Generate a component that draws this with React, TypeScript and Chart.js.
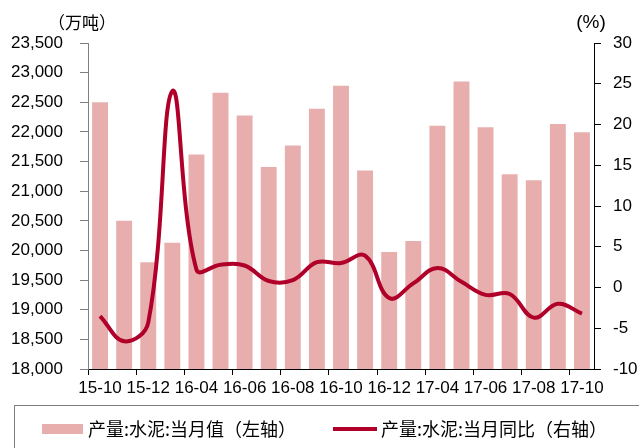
import React, { useEffect, useRef } from "react";
import { Chart, registerables } from "chart.js";

Chart.register(...registerables);

const categories = ["15-10","15-11","15-12","16-03","16-04","16-05","16-06","16-07","16-08","16-09","16-10","16-11","16-12","17-03","17-04","17-05","17-06","17-07","17-08","17-09","17-10"];
const outputValues = [22500,20500,19800,20130,21620,22660,22275,21410,21770,22390,22780,21350,19975,20160,22105,22850,22080,21285,21185,22135,21995];
const yoyValues = [-3.5,-6.6,-4.3,24.1,2.2,2.8,2.7,0.8,0.9,3.1,3.0,3.9,-1.3,0.5,2.4,0.7,-0.9,-0.8,-3.7,-2.0,-3.2];
const leftTitle = "（万吨）";
const rightTitle = "(%)";
const barLabel = "产量:水泥:当月值（左轴）";
const lineLabel = "产量:水泥:当月同比（右轴）";

const BAR_COLOR = "#E8AEAE";
const LINE_COLOR = "#B0002A";
const CJK = '"Noto Sans CJK SC", sans-serif';

function pickTickFont() {
  const c = document.createElement("canvas").getContext("2d");
  if (!c) return { family: '"Liberation Sans", Arial, sans-serif', size: 17 };
  c.font = '20px "Liberation Sans Narrow", monospace';
  const a = c.measureText("ABCdef123,").width;
  c.font = "20px monospace";
  const b = c.measureText("ABCdef123,").width;
  if (Math.abs(a - b) > 0.5) return { family: '"Liberation Sans Narrow", sans-serif', size: 19 };
  return { family: '"Liberation Sans", Arial, sans-serif', size: 17 };
}

export default function App() {
  const ref = useRef<HTMLCanvasElement | null>(null);
  useEffect(() => {
    const canvas = ref.current;
    if (!canvas) return;
    const tf = pickTickFont();
    const tickFont = { family: tf.family, size: tf.size };

    const decor = {
      id: "decor",
      afterDraw(chart: any) {
        const ctx = chart.ctx;
        ctx.save();
        ctx.fillStyle = "#000";
        ctx.textBaseline = "middle";
        ctx.textAlign = "left";
        ctx.font = "17px " + CJK;
        ctx.fillText(leftTitle, 48, 23);
        ctx.font = '19px "Liberation Sans", Arial, sans-serif';
        ctx.textAlign = "center";
        ctx.fillText(rightTitle, 591, 23);
        // legend box
        ctx.strokeStyle = "#7f7f7f";
        ctx.lineWidth = 1;
        ctx.strokeRect(14.5, 405.5, 640, 60);
        ctx.fillStyle = BAR_COLOR;
        ctx.fillRect(42, 424, 41, 10);
        ctx.fillStyle = "#000";
        ctx.textAlign = "left";
        ctx.font = "18px " + CJK;
        ctx.fillText(barLabel, 88, 429);
        ctx.strokeStyle = LINE_COLOR;
        ctx.lineWidth = 4;
        ctx.beginPath();
        ctx.moveTo(333, 429);
        ctx.lineTo(377, 429);
        ctx.stroke();
        ctx.fillText(lineLabel, 381, 429);
        ctx.restore();
      },
    };

    const chart = new Chart(canvas, {
      type: "bar",
      data: {
        labels: categories,
        datasets: [
          {
            type: "line",
            label: lineLabel,
            data: yoyValues,
            yAxisID: "y1",
            borderColor: LINE_COLOR,
            backgroundColor: LINE_COLOR,
            borderWidth: 4,
            pointRadius: 0,
            tension: 0.4,
            order: 0,
          } as any,
          {
            type: "bar",
            label: barLabel,
            data: outputValues,
            yAxisID: "y",
            backgroundColor: BAR_COLOR,
            borderWidth: 0,
            barPercentage: 0.66,
            categoryPercentage: 1,
            order: 1,
          },
        ],
      },
      options: {
        responsive: false,
        animation: false,
        layout: { padding: { top: 43, left: 0, right: 0, bottom: 0 } },
        plugins: { legend: { display: false }, tooltip: { enabled: false } },
        scales: {
          x: {
            type: "category",
            offset: true,
            afterFit: (s: any) => { s.height = 79; },
            grid: {
              offset: true,
              drawOnChartArea: false,
              drawTicks: true,
              tickLength: 6,
              color: (c: any) => (c.index % 2 === 0 ? "#000" : "rgba(0,0,0,0)"),
            },
            border: { display: true, color: "#000", width: 1 },
            ticks: {
              autoSkip: false,
              maxRotation: 0,
              minRotation: 0,
              padding: 3,
              color: "#000",
              font: tickFont,
              callback: (_v: any, i: number) => (i % 2 === 0 ? categories[i] : ""),
            },
          },
          y: {
            position: "left",
            min: 18000,
            max: 23500,
            afterFit: (s: any) => { s.width = 88; },
            grid: { drawOnChartArea: false, drawTicks: true, tickLength: 8, color: "#808080" },
            border: { display: true, color: "#808080", width: 1 },
            ticks: {
              stepSize: 500,
              padding: 17,
              color: "#000",
              font: tickFont,
              callback: (v: any) => Number(v).toLocaleString("en-US"),
            },
          },
          y1: {
            position: "right",
            min: -10,
            max: 30,
            afterFit: (s: any) => { s.width = 45; },
            grid: { drawOnChartArea: false, drawTicks: true, tickLength: 7, color: "#000" },
            border: { display: true, color: "#000", width: 1 },
            ticks: { stepSize: 5, padding: 12, color: "#000", font: tickFont },
          },
        },
      },
      plugins: [decor],
    } as any);
    return () => chart.destroy();
  }, []);

  return (
    <div style={{ position: "fixed", left: 0, top: 0, width: 639, height: 448, background: "#fff" }}>
      <canvas ref={ref} width={639} height={448} style={{ display: "block", width: 639, height: 448 }} />
    </div>
  );
}
